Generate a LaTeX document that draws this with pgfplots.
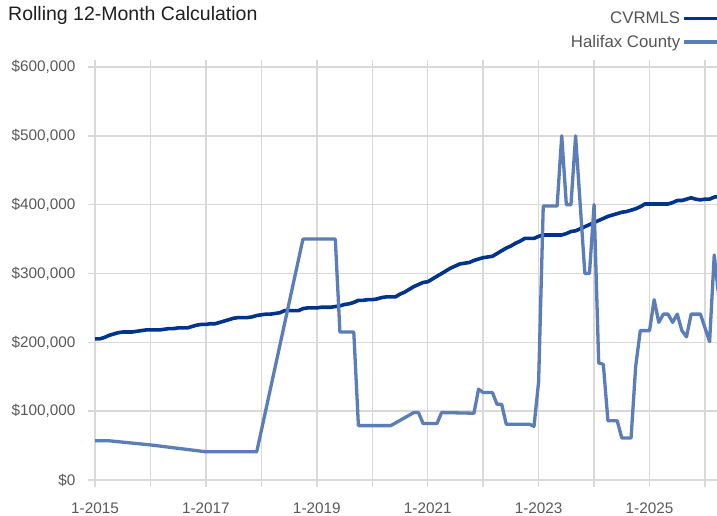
\documentclass[border=0pt]{standalone}
\usepackage{pgfplots}
\pgfplotsset{compat=1.18}
\usepackage{pgfplotstable}
\usepackage{fontspec}
\setmainfont{Liberation Sans}
\definecolor{cvr}{HTML}{00338D}
\definecolor{hal}{HTML}{5B7DB8}
\definecolor{gridc}{HTML}{D9D9D9}
\definecolor{tickc}{HTML}{595959}
\definecolor{legc}{HTML}{555555}
\pgfplotstableread{
m v
0 205
1 205
2 207
3 210
4 212
5 214
6 215
7 215
8 215
9 216
10 217
11 218
12 218
13 218
14 218
15 219
16 220
17 220
18 221
19 221
20 221
21 223
22 225
23 226
24 226
25 227
26 227
27 229
28 231
29 233
30 235
31 236
32 236
33 236
34 237
35 239
36 240
37 241
38 241
39 242
40 243
41 246
42 246
43 246
44 246
45 249
46 250
47 250
48 250
49 251
50 251
51 251
52 252
53 253
54 255
55 256
56 258
57 261
58 261
59 262
60 262
61 263
62 265
63 266
64 266
65 266
66 270
67 273
68 277
69 281
70 284
71 287
72 288
73 292
74 296
75 300
76 304
77 308
78 311
79 314
80 315
81 316
82 319
83 321
84 323
85 324
86 325
87 329
88 333
89 337
90 340
91 344
92 347
93 351
94 351
95 351
96 354
97 356
98 356
99 356
100 356
101 356
102 358
103 361
104 362
105 365
106 368
107 371
108 374
109 377
110 380
111 383
112 385
113 387
114 389
115 390
116 392
117 394
118 397
119 401
120 401
121 401
122 401
123 401
124 401
125 403
126 406
127 406
128 408
129 410
130 408
131 407
132 408
133 408
134 411
135 412
}\cvrtable
\pgfplotstableread{
m v
0 57
1 57
2 57
3 57
12 51
24 41
35 41
45 350
52 350
53 215
56 215
57 79
64 79
69 98
70 98
71 82
74 82
75 98
82 97
83 132
84 127
86 127
87 110
88 110
89 81
94 81
95 78
96 143
97 398
100 398
101 500
102 400
103 400
104 500
106 300
107 300
108 400
109 170
110 168
111 86
113 86
114 61
116 61
117 165
118 217
120 217
121 262
122 229
123 241
124 241
125 229
126 241
127 217
128 208
129 241
131 241
133 201
134 327
135 265
}\haltable
\begin{document}
\begin{tikzpicture}[x=1pt,y=1pt]
\begin{axis}[
  at={(95pt,35pt)}, anchor=south west,
  scale only axis, width=622pt, height=413pt,
  xmin=0, xmax=134.6, ymin=0, ymax=600,
  axis line style={draw=none},
  grid=major, major grid style={gridc, line width=1.4pt},
  xtick={0,12,...,132},
  xticklabels={1-2015,,1-2017,,1-2019,,1-2021,,1-2023,,1-2025,},
  ytick={0,100,...,600},
  yticklabels={\$0,{\$100,000},{\$200,000},{\$300,000},{\$400,000},{\$500,000},{\$600,000}},
  tick align=outside, major tick length=7pt,
  tick style={gridc, line width=1.4pt},
  ticklabel style={font=\fontsize{15.3}{18}\selectfont, text=tickc},
  xticklabel style={yshift=-12pt},
  yticklabel style={xshift=-9pt},
  legend plot pos=right,
  legend cell align=right,
  legend image code/.code={\draw[#1] (7pt,0pt) -- (41pt,0pt);},
  legend style={at={(axis description cs:1,1)}, anchor=south east, xshift=6pt, yshift=14pt, draw=none, fill=none, font=\fontsize{16.8}{20}\selectfont, text=legc, row sep=6pt},
]
\addplot[cvr, line width=3.6pt, line join=round] table[x=m, y=v] {\cvrtable};
\addlegendentry{CVRMLS}
\addplot[hal, line width=3.3pt, line join=round] table[x=m, y=v] {\haltable};
\addlegendentry{Halifax County}
\end{axis}
\node[anchor=base west, inner sep=0pt, font=\fontsize{19.5}{23}\selectfont, text=black!88] at (8,494) {Rolling 12-Month Calculation};
\pgfresetboundingbox
\path[use as bounding box] (0,0) rectangle (717,515);
\end{tikzpicture}
\end{document}
